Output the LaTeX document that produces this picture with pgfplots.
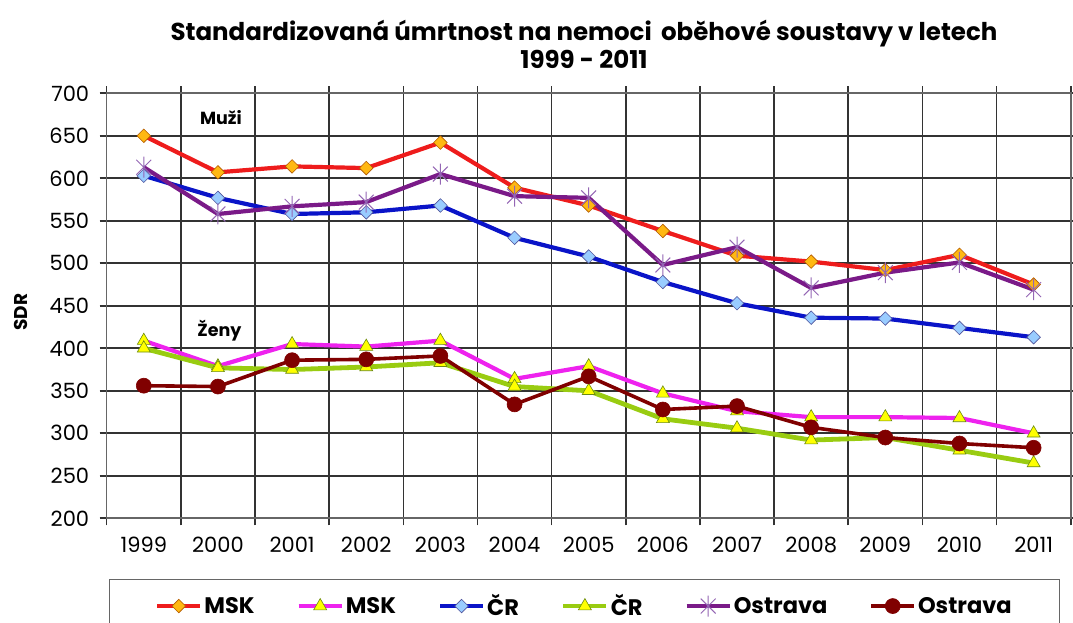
\documentclass[border=0pt]{standalone}
\usepackage{fontspec}
\setmainfont{Poppins}
\usepackage{pgfplots}
\pgfplotsset{compat=1.18}
\definecolor{mskred}{HTML}{EE1C1C}
\definecolor{mskmark}{HTML}{FFB812}
\definecolor{cblue}{HTML}{0A14C8}
\definecolor{cbluemark}{HTML}{99CCFF}
\definecolor{ostpurp}{HTML}{7A1A88}
\definecolor{ostmark}{HTML}{9466B4}
\definecolor{mskmag}{HTML}{EE22EE}
\definecolor{trifill}{HTML}{FFFF00}
\definecolor{tribord}{HTML}{6A8A10}
\definecolor{crgreen}{HTML}{99CC11}
\definecolor{ostdark}{HTML}{800000}
\pgfdeclareplotmark{xstar}{%
  \pgfpathmoveto{\pgfqpoint{-0.7071\pgfplotmarksize}{-0.7071\pgfplotmarksize}}%
  \pgfpathlineto{\pgfqpoint{0.7071\pgfplotmarksize}{0.7071\pgfplotmarksize}}%
  \pgfpathmoveto{\pgfqpoint{-0.7071\pgfplotmarksize}{0.7071\pgfplotmarksize}}%
  \pgfpathlineto{\pgfqpoint{0.7071\pgfplotmarksize}{-0.7071\pgfplotmarksize}}%
  \pgfpathmoveto{\pgfqpoint{0pt}{-\pgfplotmarksize}}%
  \pgfpathlineto{\pgfqpoint{0pt}{\pgfplotmarksize}}%
  \pgfusepathqstroke}
\begin{document}
\begin{tikzpicture}
\useasboundingbox (0,0) rectangle (1073pt,623pt);
\node[align=center, font=\bfseries\fontsize{24.5}{28}\selectfont] at (584pt,579pt)
  {Standardizovaná úmrtnost na nemoci\, oběhové soustavy v letech\\1999 - 2011};
\begin{axis}[
  at={(106.7pt,104.7pt)}, anchor=south west,
  scale only axis, width=964pt, height=425pt,
  xmin=-0.5, xmax=12.5, ymin=200, ymax=700,
  xtick={0,1,2,3,4,5,6,7,8,9,10,11,12},
  xticklabels={1999,2000,2001,2002,2003,2004,2005,2006,2007,2008,2009,2010,2011},
  major x tick style={draw=none},
  minor xtick={-0.5,0.5,1.5,2.5,3.5,4.5,5.5,6.5,7.5,8.5,9.5,10.5,11.5,12.5},
  xminorgrids,
  ytick={200,250,...,700}, ymajorgrids,
  tick align=outside,
  major tick length=7pt, minor tick length=7pt,
  grid style={black!80, line width=1.6pt},
  minor grid style={black!80, line width=1.6pt},
  tick style={black!80, line width=1.6pt},
  axis line style={black!60, line width=1.6pt},
  ticklabel style={font=\fontsize{21}{24}\selectfont},
  /pgf/number format/assume math mode=true,
  xticklabel style={yshift=-8pt},
  yticklabel style={xshift=-7pt},
  ylabel={SDR},
  ylabel style={at={(axis description cs:-0.0885,0.485)}, anchor=center, font=\bfseries\fontsize{18.5}{20}\selectfont},
  legend columns=6,
  legend style={at={(0.4956,-0.1428)}, anchor=north, draw=black!60, line width=1.4pt,
    font=\bfseries\fontsize{22.5}{26}\selectfont, inner xsep=46pt, inner ysep=13pt,
    /tikz/every even column/.append style={column sep=40pt}},
  legend image code/.code={\draw[mark repeat=2,mark phase=2,#1] plot coordinates {(0pt,0pt) (21.5pt,0pt) (43pt,0pt)};},
  legend cell align=left,
  clip=false,
]
\addplot[mskred, line width=4.2pt, mark=square*, mark size=4.8pt,
  mark options={rotate=45, fill=mskmark, draw=orange!70!black, line width=0.6pt}]
  coordinates {(0,650)(1,607)(2,614)(3,612)(4,642)(5,589)(6,568)(7,538)(8,509)(9,502)(10,492)(11,510)(12,475)};
\addlegendentry{MSK}
\addplot[mskmag, line width=4.2pt, mark=triangle*, mark size=7.5pt,
  mark options={fill=trifill, draw=tribord, line width=0.6pt}]
  coordinates {(0,409)(1,379)(2,405)(3,402)(4,409)(5,364)(6,379)(7,347)(8,326)(9,319)(10,319)(11,318)(12,300)};
\addlegendentry{MSK}
\addplot[cblue, line width=4.2pt, mark=square*, mark size=4.8pt,
  mark options={rotate=45, fill=cbluemark, draw=cblue!40!gray, line width=0.6pt}]
  coordinates {(0,603)(1,577)(2,558)(3,560)(4,568)(5,530)(6,508)(7,478)(8,453)(9,436)(10,435)(11,424)(12,413)};
\addlegendentry{ČR}
\addplot[crgreen, line width=4.8pt, mark=triangle*, mark size=7.5pt,
  mark options={fill=trifill, draw=tribord, line width=0.6pt}]
  coordinates {(0,400)(1,377)(2,375)(3,378)(4,383)(5,355)(6,350)(7,317)(8,306)(9,292)(10,295)(11,280)(12,265)};
\addlegendentry{ČR}
\addplot[ostpurp, line width=4.2pt, mark=xstar, mark size=10.5pt,
  mark options={draw=ostmark, line width=1pt}]
  coordinates {(0,613)(1,558)(2,567)(3,572)(4,605)(5,579)(6,577)(7,498)(8,519)(9,471)(10,489)(11,501)(12,469)};
\addlegendentry{Ostrava}
\addplot[ostdark, line width=3.6pt, mark=*, mark size=7.5pt,
  mark options={fill=ostdark, draw=ostdark, line width=0.6pt}]
  coordinates {(0,356)(1,355)(2,386)(3,387)(4,391)(5,334)(6,367)(7,328)(8,332)(9,307)(10,295)(11,288)(12,283)};
\addlegendentry{Ostrava}
\node[font=\bfseries\fontsize{17.5}{19}\selectfont] at (axis cs:1.04,672) {Muži};
\node[font=\bfseries\fontsize{17.5}{19}\selectfont] at (axis cs:1.02,421) {Ženy};
\end{axis}
\end{tikzpicture}
\end{document}
